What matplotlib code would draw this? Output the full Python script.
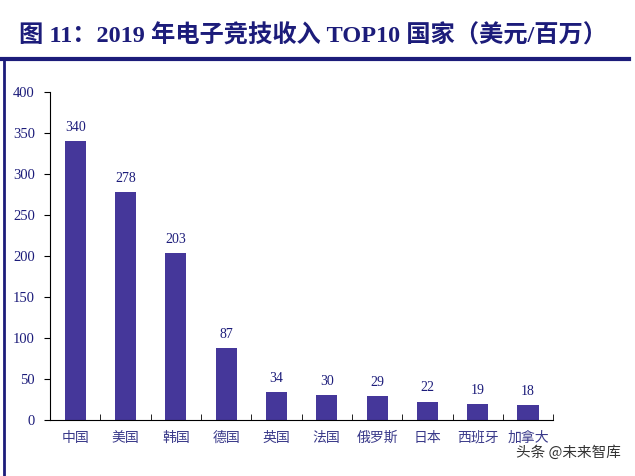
import matplotlib.pyplot as plt
from matplotlib.lines import Line2D

countries = ['中国', '美国', '韩国', '德国', '英国', '法国', '俄罗斯', '日本', '西班牙', '加拿大']
revenue = [340, 278, 203, 87, 34, 30, 29, 22, 19, 18]

navy = '#1c1c7a'
bar_color = '#45379a'
serif = ['Liberation Serif', 'Noto Sans CJK SC']
cjk = ['Noto Sans CJK SC', 'DejaVu Sans']

fig = plt.figure(figsize=(6.35, 4.76), dpi=100)
ax = fig.add_axes([0.079, 0.118, 0.792, 0.689])

x = list(range(len(countries)))
ax.bar(x, revenue, width=0.42, color=bar_color)
for i, v in enumerate(revenue):
    ax.text(i, v + 9, str(v), ha='center', va='bottom', fontsize=10,
            family=serif, color=navy)

ax.set_xlim(-0.5, len(countries) - 0.5)
ax.set_ylim(0, 400)
ax.set_yticks(range(0, 401, 50))
ax.set_yticklabels([str(t) for t in range(0, 401, 50)], family=serif,
                   fontsize=10.5, color=navy)
ax.set_xticks(x)
ax.set_xticklabels(countries, family=cjk, fontsize=10, color='#3a3a8a',
                   fontweight='light')
ax.tick_params(axis='x', length=0, pad=8)
ax.set_xticks([i + 0.5 for i in range(-1, len(countries))], minor=True)
ax.tick_params(axis='x', which='minor', direction='in', length=4, color='black')
ax.tick_params(axis='y', direction='out', length=4, color='black', pad=7)
for s in ['top', 'right']:
    ax.spines[s].set_visible(False)
ax.spines['left'].set_color('black')
ax.spines['bottom'].set_color('black')

fig.text(0.03, 0.925, '图 11：2019 年电子竞技收入 TOP10 国家（美元/百万）',
         family=serif, fontsize=17.5, fontweight='bold', color=navy, va='center')
fig.add_artist(Line2D([0.0, 0.99], [0.876, 0.876], transform=fig.transFigure,
                      color=navy, lw=3))
fig.add_artist(Line2D([0.007, 0.007], [0.0, 0.876], transform=fig.transFigure,
                      color=navy, lw=2))
fig.text(0.978, 0.05, '头条 @未来智库', family=cjk, fontsize=10.5,
         color='#333333', ha='right', va='center')

plt.savefig('out.png', dpi=100)
